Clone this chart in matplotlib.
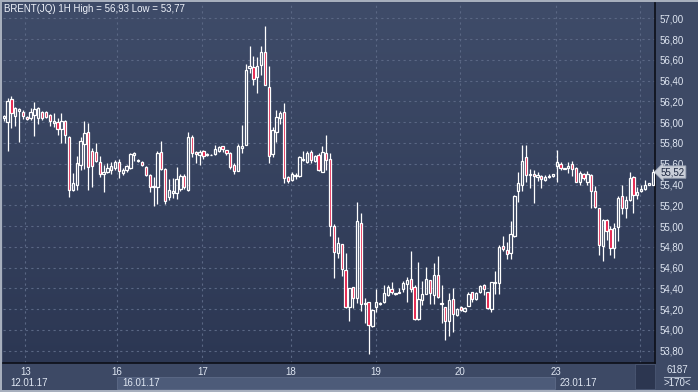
import matplotlib
matplotlib.use("Agg")
import matplotlib.pyplot as plt
import numpy as np
from matplotlib.colors import LinearSegmentedColormap
from matplotlib.patches import Rectangle

plt.rcParams["font.family"] = ["Liberation Sans", "DejaVu Sans"]

# Hourly Brent candles, 12.01.17 - 24.01.17
opens = [56.04, 56.00, 56.22, 56.06, 56.11, 56.10, 56.05, 56.04, 56.07, 56.04,
         56.10, 56.10, 56.07, 55.99, 56.00, 55.93, 56.01, 55.86, 55.35, 55.40,
         55.59, 55.79, 55.91, 55.72, 55.71, 55.62, 55.50, 55.52, 55.54, 55.56,
         55.62, 55.51, 55.54, 55.56, 55.68, 55.63, 55.62, 55.57, 55.49, 55.38,
         55.38, 55.71, 55.55, 55.28, 55.32, 55.32, 55.36, 55.48, 55.35, 55.86,
         55.71, 55.68, 55.72, 55.68, 55.68, 55.69,
         55.72, 55.77, 55.73, 55.70, 55.59, 55.53, 55.75, 55.78, 56.52, 56.53,
         56.43, 56.55, 56.68, 56.34, 55.69, 55.91, 56.04, 56.10, 55.47, 55.44,
         55.48, 55.48, 55.64, 55.62, 55.71, 55.63, 55.68, 55.52, 55.70, 55.65,
         55.00,
         54.74, 54.83, 54.58, 54.22, 54.41, 54.31, 55.03, 54.26, 54.27, 54.04,
         54.22, 54.25, 54.27, 54.34, 54.39, 54.36, 54.36, 54.39, 54.44, 54.49,
         54.41, 54.11, 54.29, 54.35, 54.48, 54.34, 54.53, 54.26, 54.22, 54.09,
         54.30, 54.14, 54.22, 54.18, 54.23, 54.37, 54.30, 54.37, 54.43, 54.37,
         54.20, 54.45, 54.45, 54.81, 54.77, 54.74, 54.90, 55.34, 55.40, 55.66,
         55.49, 55.50,
         55.47, 55.48, 55.44, 55.47, 55.48, 55.58, 55.60, 55.56, 55.56, 55.60,
         55.56, 55.42, 55.50, 55.42, 55.49, 55.34, 55.17, 54.81, 55.06, 54.97,
         54.79, 54.99, 55.29, 55.17, 55.25, 55.47, 55.30, 55.34, 55.36, 55.40,
         55.40]
highs = [56.07, 56.23, 56.25, 56.15, 56.14, 56.12, 56.06, 56.14, 56.19, 56.15,
         56.11, 56.11, 56.08, 56.09, 56.04, 56.09, 56.02, 55.87, 55.51, 55.67,
         55.86, 56.01, 55.99, 55.75, 55.80, 55.67, 55.59, 55.61, 55.62, 55.64,
         55.65, 55.56, 55.59, 55.70, 55.71, 55.65, 55.63, 55.58, 55.50, 55.47,
         55.72, 55.82, 55.56, 55.45, 55.46, 55.57, 55.50, 55.50, 55.91, 55.88,
         55.72, 55.73, 55.73, 55.70, 55.69, 55.78,
         55.77, 55.77, 55.73, 55.71, 55.61, 55.79, 55.97, 56.56, 56.73, 56.64,
         56.63, 56.73, 56.93, 56.54, 55.95, 56.12, 56.11, 56.18, 55.48, 55.52,
         55.51, 55.67, 55.72, 55.72, 55.73, 55.68, 55.70, 55.77, 55.88, 55.70,
         55.02,
         54.89, 54.83, 54.74, 54.40, 54.41, 55.23, 55.13, 54.31, 54.27, 54.20,
         54.39, 54.27, 54.43, 54.43, 54.46, 54.36, 54.40, 54.47, 54.51, 54.76,
         54.43, 54.65, 54.47, 54.61, 54.48, 54.64, 54.71, 54.43, 54.22, 54.36,
         54.40, 54.21, 54.23, 54.22, 54.37, 54.37, 54.37, 54.43, 54.44, 54.37,
         54.46, 54.57, 54.82, 54.90, 54.85, 55.05, 55.30, 55.52, 55.78, 55.78,
         55.55, 55.54,
         55.52, 55.49, 55.49, 55.50, 55.50, 55.73, 55.62, 55.56, 55.62, 55.63,
         55.57, 55.53, 55.51, 55.53, 55.50, 55.39, 55.17, 55.07, 55.07, 55.00,
         55.03, 55.29, 55.40, 55.29, 55.52, 55.48, 55.38, 55.40, 55.44, 55.41,
         55.55]
lows = [56.01, 55.72, 55.94, 55.96, 55.81, 56.03, 56.02, 56.02, 55.87, 55.98,
        56.02, 56.04, 55.96, 55.95, 55.88, 55.80, 55.80, 55.28, 55.34, 55.35,
        55.54, 55.55, 55.35, 55.38, 55.62, 55.47, 55.33, 55.51, 55.50, 55.54,
        55.46, 55.49, 55.52, 55.55, 55.63, 55.62, 55.58, 55.48, 55.33, 55.19,
        55.21, 55.54, 55.21, 55.25, 55.27, 55.26, 55.34, 55.36, 55.34, 55.66,
        55.61, 55.59, 55.65, 55.67, 55.68, 55.68,
        55.71, 55.71, 55.68, 55.55, 55.50, 55.53, 55.70, 55.78, 56.47, 56.36,
        56.28, 56.45, 56.36, 55.61, 55.66, 55.81, 55.98, 55.41, 55.41, 55.43,
        55.45, 55.47, 55.63, 55.61, 55.61, 55.62, 55.53, 55.52, 55.54, 54.90,
        54.50,
        54.69, 54.52, 54.21, 54.09, 54.21, 54.26, 54.18, 54.07, 53.77, 54.03,
        54.17, 54.24, 54.26, 54.33, 54.35, 54.34, 54.36, 54.37, 54.27, 54.37,
        54.10, 54.10, 54.24, 54.35, 54.25, 54.25, 54.31, 54.07, 53.90, 53.94,
        53.98, 54.13, 54.18, 54.17, 54.23, 54.27, 54.29, 54.36, 54.34, 54.20,
        54.17, 54.35, 54.35, 54.76, 54.68, 54.68, 54.89, 55.23, 55.34, 55.42,
        55.37, 55.22,
        55.43, 55.37, 55.43, 55.46, 55.47, 55.42, 55.54, 55.55, 55.51, 55.48,
        55.42, 55.40, 55.44, 55.40, 55.17, 55.17, 54.72, 54.66, 54.87, 54.72,
        54.69, 54.86, 55.12, 55.08, 55.24, 55.13, 55.26, 55.33, 55.35, 55.40,
        55.40]
closes = [56.06, 56.20, 56.09, 56.14, 56.13, 56.06, 56.03, 56.10, 56.13, 56.14,
          56.04, 56.05, 56.01, 56.01, 55.93, 56.01, 55.88, 55.35, 55.41, 55.61,
          55.82, 55.90, 55.57, 55.58, 55.63, 55.50, 55.52, 55.56, 55.58, 55.62,
          55.53, 55.54, 55.58, 55.69, 55.70, 55.64, 55.59, 55.49, 55.38, 55.39,
          55.70, 55.55, 55.24, 55.35, 55.34, 55.45, 55.48, 55.38, 55.86, 55.70,
          55.69, 55.71, 55.67, 55.69, 55.68, 55.74,
          55.76, 55.74, 55.70, 55.57, 55.53, 55.77, 55.77, 56.50, 56.54, 56.42,
          56.54, 56.68, 56.36, 55.67, 55.92, 56.05, 56.09, 55.46, 55.43, 55.50,
          55.49, 55.66, 55.65, 55.70, 55.64, 55.67, 55.54, 55.71, 55.64, 55.00,
          54.75,
          54.84, 54.59, 54.22, 54.40, 54.31, 55.05, 54.25, 54.25, 54.05, 54.19,
          54.27, 54.26, 54.36, 54.41, 54.37, 54.35, 54.37, 54.45, 54.48, 54.39,
          54.11, 54.30, 54.35, 54.49, 54.36, 54.53, 54.32, 54.25, 54.09, 54.29,
          54.15, 54.20, 54.19, 54.21, 54.35, 54.30, 54.36, 54.42, 54.39, 54.21,
          54.46, 54.46, 54.80, 54.78, 54.73, 54.92, 55.29, 55.41, 55.63, 55.49,
          55.50, 55.48,
          55.49, 55.45, 55.47, 55.48, 55.50, 55.62, 55.56, 55.55, 55.58, 55.55,
          55.42, 55.51, 55.46, 55.50, 55.34, 55.18, 54.82, 55.06, 54.95, 54.79,
          54.98, 55.27, 55.17, 55.25, 55.46, 55.30, 55.33, 55.36, 55.40, 55.41,
          55.52]

day_pos = [5.65, 29.5, 51.7, 74.8, 96.9, 118.7, 143.8, 165.7]
day_labels = ["13", "16", "17", "18", "19", "20", "23", "24"]
price_ticks = [53.8, 54.0, 54.2, 54.4, 54.6, 54.8, 55.0, 55.2, 55.4, 55.6,
               55.8, 56.0, 56.2, 56.4, 56.6, 56.8, 57.0]
title = "BRENT(JQ) 1H High = 56,93 Low = 53,77"
last_price = closes[-1]

W, H = 698, 392
FS = 7
TXT = "#dfe6f2"
fig = plt.figure(figsize=(W / 100, H / 100), dpi=100)
fig.patch.set_facecolor("#3d4965")

def px(x0, y0, x1, y1):
    # pixel box -> figure fraction rect
    return [x0 / W, 1 - y1 / H, (x1 - x0) / W, (y1 - y0) / H]

ax = fig.add_axes(px(3, 3, 655, 363))
ax.set_facecolor("#35415d")

# background gradient
cmap = LinearSegmentedColormap.from_list("bg", ["#2c3753", "#3f4c69"])
grad = np.linspace(0, 1, 256).reshape(-1, 1)
ax.imshow(grad, cmap=cmap, aspect="auto", extent=[0, 1, 0, 1],
          transform=ax.transAxes, origin="lower", zorder=0)

o = np.array(opens); c = np.array(closes)
h = np.array(highs); l = np.array(lows)
idx = np.arange(len(o))
top = np.maximum(o, c)
bot = np.minimum(o, c)
up = c >= o

ax.vlines(idx, top, h, color="white", lw=0.9, zorder=3)
ax.vlines(idx, l, bot, color="white", lw=0.9, zorder=3)
ax.bar(idx[up], (top - bot)[up], bottom=bot[up], width=0.6,
       facecolor="none", edgecolor="white", linewidth=0.9, zorder=4)
ax.bar(idx[~up], (top - bot)[~up], bottom=bot[~up], width=0.6,
       facecolor="#e3123e", edgecolor="white", linewidth=0.9, zorder=4)

ax.set_xlim(-0.2, 169.6)
ax.set_ylim(53.682, 57.147)

ax.set_yticks(price_ticks)
ax.set_yticklabels([f"{p:.2f}".replace(".", ",") for p in price_ticks])
ax.yaxis.tick_right()
ax.tick_params(axis="y", length=0, pad=3, labelsize=FS, labelcolor=TXT)
ax.set_xticks(day_pos)
ax.set_xticklabels(day_labels)
ax.tick_params(axis="x", length=0, pad=3, labelsize=FS, labelcolor=TXT)
ax.get_xticklabels()[-1].set_color("#7d8aa3")

ax.grid(True, color="#5a6784", linestyle=(0, (2, 3)), linewidth=0.8, zorder=1)
for s in ["left", "top"]:
    ax.spines[s].set_visible(False)
for s in ["right", "bottom"]:
    ax.spines[s].set_color("#0c0f18")
    ax.spines[s].set_linewidth(1.2)

fig.text(4 / W, 1 - 8.5 / H, title, fontsize=FS, color="#eef2fa",
         va="center", ha="left")

# lower date strip
fig.patches.append(Rectangle((117 / W, 1 - 389 / H), (555 - 117) / W, 12 / H,
                             transform=fig.transFigure, facecolor="#4d5b79",
                             edgecolor="#5d6b88", lw=0.6, zorder=0))
fig.patches.append(Rectangle((635 / W, 1 - 389 / H), 20 / W, 25 / H,
                             transform=fig.transFigure, facecolor="#2c3650",
                             edgecolor="#4a5672", lw=0.6, zorder=0))
fig.text(10 / W, 1 - 383 / H, "12.01.17", fontsize=FS, color=TXT, va="center")
fig.text(122 / W, 1 - 383 / H, "16.01.17", fontsize=FS, color=TXT, va="center")
fig.text(560 / W, 1 - 383 / H, "23.01.17", fontsize=FS, color=TXT, va="center")

# counters under the price scale
fig.text(677 / W, 1 - 370 / H, "6187", fontsize=FS, color=TXT,
         va="center", ha="center")
fig.lines.append(plt.Line2D([664 / W, 690 / W], [1 - 377 / H, 1 - 377 / H],
                            transform=fig.transFigure, color="#aab4c6", lw=0.8))
fig.text(677 / W, 1 - 383.5 / H, ">170<", fontsize=FS, color=TXT,
         va="center", ha="center")

# borders
fig.patches.append(Rectangle((0, 1 - 2 / H), 1, 2 / H, transform=fig.transFigure,
                             facecolor="#a7afbd", edgecolor="none"))
fig.patches.append(Rectangle((0, 0), 2 / W, 1, transform=fig.transFigure,
                             facecolor="#a7afbd", edgecolor="none"))
fig.patches.append(Rectangle((0, 0), 1, 2.5 / H, transform=fig.transFigure,
                             facecolor="#a7afbd", edgecolor="none"))

# last price marker
ax.annotate(f"{last_price:.2f}".replace(".", ","), xy=(1.0, last_price),
            xycoords=("axes fraction", "data"), xytext=(4, 0),
            textcoords="offset points", fontsize=FS, color="#1d2740",
            va="center", ha="left", annotation_clip=False,
            bbox=dict(boxstyle="larrow,pad=0.12", fc="#c9ced8", ec="#9aa3b4", lw=0.6))

fig.savefig("out.png", dpi=100, facecolor=fig.get_facecolor())
